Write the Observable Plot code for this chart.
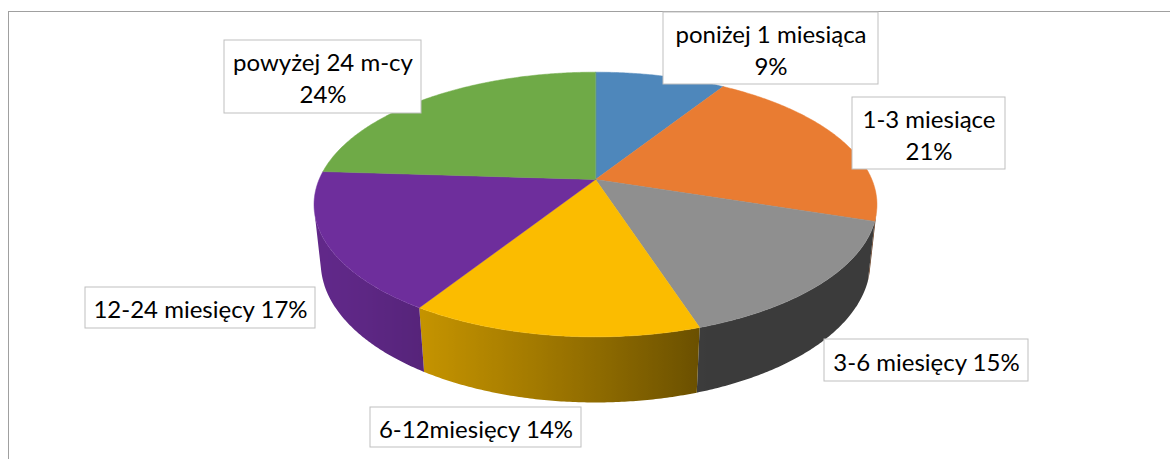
<!DOCTYPE html>
<html><head><meta charset="utf-8">
<script src="https://cdn.jsdelivr.net/npm/d3@7"></script>
<script src="https://cdn.jsdelivr.net/npm/@observablehq/plot@0.6"></script>
<style>html,body{margin:0;padding:0;background:#fff;overflow:hidden}</style>
</head><body><div id="chart"></div>
<script>
// ---- data ----
const categories = ["poniżej 1 miesiąca", "1-3 miesiące", "3-6 miesięcy", "6-12miesięcy", "12-24 miesięcy", "powyżej 24 m-cy"];
const shares = [9, 21, 15, 14, 17, 24];

// ---- styles / layout ----
const topColors = ["#4E87BB", "#E97C32", "#8F8F8F", "#FBBC00", "#6E2E9C", "#6FAA47"];
const labelSep = ["\n", "\n", " ", " ", " ", "\n"];
// label boxes [x1, y1, x2, y2] in pixels
const labelBoxes = [
  [663, 12, 878, 84],
  [852, 97, 1005, 169],
  [824, 339, 1028, 381],
  [370, 407, 581, 447],
  [85, 287, 315, 328],
  [224, 40, 421, 113]
];
const view = {cx: 595, cy: 179, f: 1297, R: 0.2131, h: 0.0508, tilt: 27.5};
const light = {amb: 0.41, k: 0.47, dir: 250};

const W = 1170, H = 459;
const rad = Math.PI / 180;
const ta = view.tilt * rad;
function project(theta, level) {
  const t = theta * rad;
  const X = view.R * Math.sin(t), Z = -view.R * Math.cos(t), Y = -level * view.h;
  const yc = Z * Math.sin(ta) - Y * Math.cos(ta);
  const dc = 1 - Z * Math.cos(ta) - Y * Math.sin(ta);
  return [view.cx + view.f * X / dc, view.cy + view.f * yc / dc];
}

const total = d3.sum(shares);
const cum = d3.cumsum(shares);
const slices = shares.map((v, i) => ({
  i, name: categories[i], value: v,
  a0: (cum[i] - v) / total * 360, a1: cum[i] / total * 360
}));

// top faces
const topPts = [];
for (const s of slices) {
  topPts.push({id: s.i, x: view.cx, y: view.cy, fill: topColors[s.i]});
  const n = Math.max(2, Math.ceil((s.a1 - s.a0) / 0.5));
  for (let k = 0; k <= n; k++) {
    const th = s.a0 + (s.a1 - s.a0) * k / n;
    const [x, y] = project(th, 0);
    topPts.push({id: s.i, x, y, fill: topColors[s.i]});
  }
}

// side faces (visible part only), shaded with a horizontal gradient by facing
const sideStart = Math.acos(-view.R / Math.cos(ta)) / rad;
const sideEnd = 360 - sideStart;
function shade(c, th) {
  const L = light.amb + light.k * Math.max(0, Math.cos((th - light.dir) * rad));
  const r = d3.rgb(c);
  return d3.rgb(r.r * L, r.g * L, r.b * L).formatHex();
}
const sidePts = [];
const gradients = [];
for (const s of slices) {
  const lo = Math.max(s.a0, sideStart), hi = Math.min(s.a1, sideEnd);
  if (hi <= lo) continue;
  const n = Math.max(2, Math.ceil((hi - lo) / 0.5));
  const gid = "side-grad-" + s.i;
  const ths = d3.range(n + 1).map(k => lo + (hi - lo) * k / n);
  for (const th of ths) { const [x, y] = project(th, 0); sidePts.push({id: s.i, x, y, fill: `url(#${gid})`}); }
  for (const th of ths.slice().reverse()) { const [x, y] = project(th, 1); sidePts.push({id: s.i, x, y, fill: `url(#${gid})`}); }
  const xs = ths.map(th => (project(th, 0)[0] + project(th, 1)[0]) / 2);
  const xmin = d3.min(xs), xmax = d3.max(xs);
  const stops = ths.map((th, k) => ({off: (xs[k] - xmin) / Math.max(1e-6, xmax - xmin), color: shade(topColors[s.i], th)}))
    .sort((a, b) => a.off - b.off);
  gradients.push({gid, xmin, xmax, stops});
}

const labels = slices.map(s => ({
  text: s.name + labelSep[s.i] + s.value + "%",
  x1: labelBoxes[s.i][0], y1: labelBoxes[s.i][1], x2: labelBoxes[s.i][2], y2: labelBoxes[s.i][3],
  cx: (labelBoxes[s.i][0] + labelBoxes[s.i][2]) / 2,
  cy: (labelBoxes[s.i][1] + labelBoxes[s.i][3]) / 2
}));

const chart = Plot.plot({
  width: W, height: H, margin: 0,
  x: {domain: [0, W], range: [0, W], axis: null},
  y: {domain: [0, H], range: [0, H], axis: null},
  color: {type: "identity"},
  style: {background: "#fff"},
  marks: [
    Plot.ruleY([11], {x1: 8, x2: W, stroke: "#A0A0A0"}),
    Plot.ruleX([8], {y1: 11, y2: H, stroke: "#A0A0A0"}),
    Plot.line(sidePts, {x: "x", y: "y", z: "id", fill: "fill", stroke: "none", curve: "linear-closed"}),
    Plot.line(topPts, {x: "x", y: "y", z: "id", fill: "fill", stroke: "fill", strokeWidth: 0.5, curve: "linear-closed"}),
    Plot.rect(labels, {x1: "x1", x2: "x2", y1: "y1", y2: "y2", fill: "#fff", stroke: "#BFBFBF", strokeWidth: 1}),
    Plot.text(labels, {x: "cx", y: "cy", text: "text", fill: "#000", fontSize: 24, fontFamily: "Lato", lineHeight: 1.33, textAnchor: "middle"})
  ]
});

// gradient definitions used by the side faces
const defs = d3.select(chart).insert("defs", ":first-child");
for (const g of gradients) {
  const lg = defs.append("linearGradient").attr("id", g.gid).attr("gradientUnits", "userSpaceOnUse")
    .attr("x1", g.xmin).attr("x2", g.xmax).attr("y1", 0).attr("y2", 0);
  for (const st of g.stops) lg.append("stop").attr("offset", st.off).attr("stop-color", st.color);
}
document.getElementById("chart").appendChild(chart);
</script>
</body></html>
